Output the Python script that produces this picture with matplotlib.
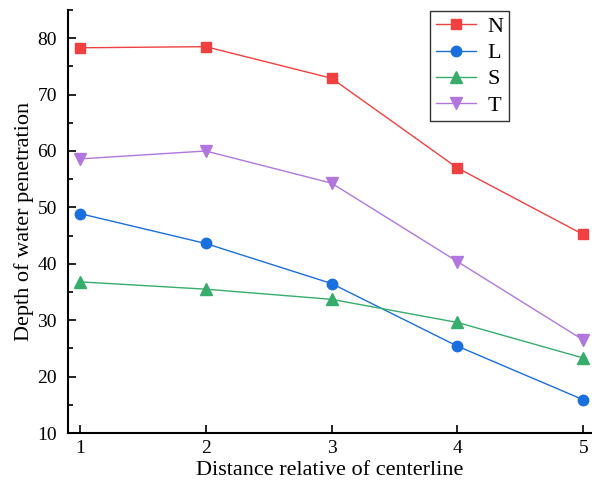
import matplotlib.pyplot as plt
from matplotlib.ticker import MultipleLocator

# data
distance = [1, 2, 3, 4, 5]
N = [78.3, 78.5, 72.9, 57.0, 45.2]
L = [48.9, 43.6, 36.5, 25.4, 15.9]
S = [36.8, 35.5, 33.7, 29.6, 23.3]
T = [58.6, 60.0, 54.3, 40.4, 26.5]

plt.rcParams['font.family'] = ['Liberation Serif', 'DejaVu Serif']

fig = plt.figure(figsize=(5.92, 4.84), dpi=100)
ax = fig.add_axes([68/592, 51/484, 524/592, 423/484])

ax.plot(distance, N, color="#F14040", marker="s", markersize=7, lw=1, label="N")
ax.plot(distance, L, color="#1A6FDF", marker="o", markersize=7.5, lw=1, label="L")
ax.plot(distance, S, color="#37AD6B", marker="^", markersize=8, lw=1, label="S")
ax.plot(distance, T, color="#B177DE", marker="v", markersize=8, lw=1, label="T")

ax.set_xlim(0.905, 5.07)
ax.set_ylim(10, 85)
ax.set_xticks(distance)
ax.yaxis.set_major_locator(MultipleLocator(10))
ax.yaxis.set_minor_locator(MultipleLocator(5))
ax.tick_params(which="both", direction="in", labelsize=14, width=1.2)
ax.tick_params(which="major", length=6)
ax.tick_params(which="minor", length=3.5)
ax.tick_params(axis="x", pad=5)
ax.tick_params(axis="y", pad=8)

for s in ["top", "right"]:
    ax.spines[s].set_visible(False)
for s in ["left", "bottom"]:
    ax.spines[s].set_linewidth(1.5)

ax.set_xlabel("Distance relative of centerline", fontsize=16, labelpad=3)
ax.set_ylabel("Depth of water penetration", fontsize=16, labelpad=2)

leg = ax.legend(loc="upper right", bbox_to_anchor=(0.843, 1.0), fontsize=16,
                fancybox=False, edgecolor="black", handlelength=1.8,
                borderpad=0.25, labelspacing=0.25, handletextpad=0.5,
                borderaxespad=0.05)
leg.get_frame().set_linewidth(1)

plt.savefig("out.png", dpi=100)
